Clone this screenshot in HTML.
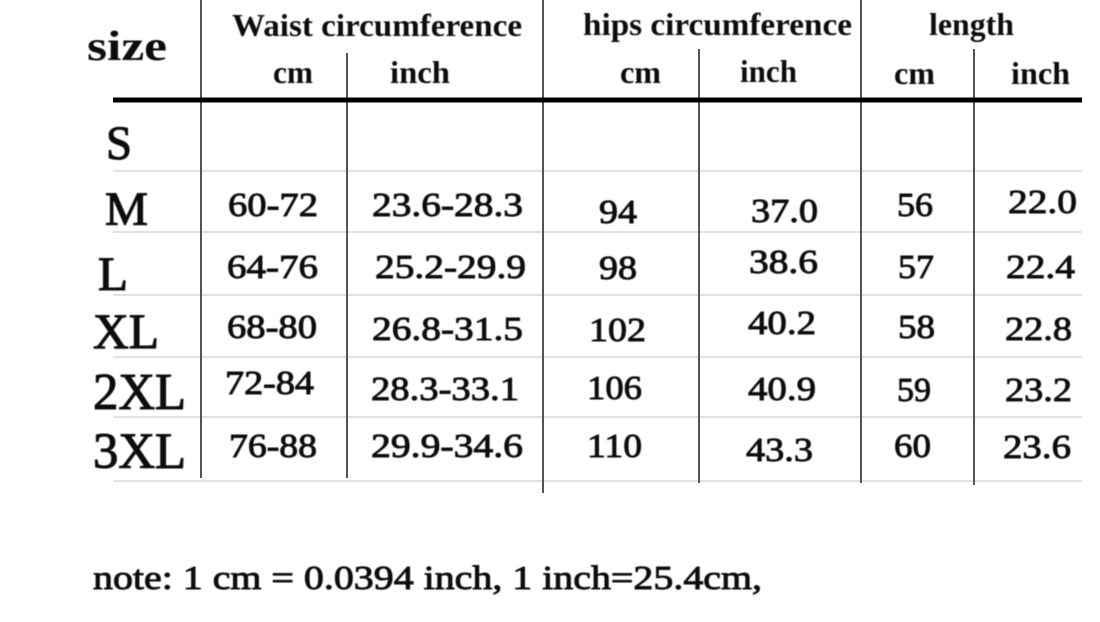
<!DOCTYPE html>
<html>
<head>
<meta charset="utf-8">
<style>
html,body{margin:0;padding:0;background:#fff;}
svg{display:block;}
text{font-family:"Liberation Serif","DejaVu Serif",serif;fill:#111;}
.h{font-weight:bold;font-size:32px;}
.sub{font-weight:bold;font-size:32px;}
.lab{font-size:48px;stroke:#111;stroke-width:1.1;}
.d{font-size:34px;stroke:#111;stroke-width:0.9;}
.note{font-size:34px;stroke:#111;stroke-width:0.9;}
</style>
</head>
<body>
<svg width="1100" height="622" viewBox="0 0 1100 622" xmlns="http://www.w3.org/2000/svg">
  <defs>
    <filter id="soft" x="-5%" y="-5%" width="110%" height="110%">
      <feGaussianBlur stdDeviation="0.45"/>
    </filter>
  </defs>
  <rect width="1100" height="622" fill="#fff"/>
  <!-- light row lines -->
  <g stroke="#e2e2e2" stroke-width="2">
    <line x1="113" y1="171" x2="1082" y2="171"/>
    <line x1="113" y1="232" x2="1082" y2="232"/>
    <line x1="113" y1="295" x2="1082" y2="295"/>
    <line x1="113" y1="357" x2="1082" y2="357"/>
    <line x1="113" y1="417" x2="1082" y2="417"/>
    <line x1="113" y1="481" x2="1082" y2="481"/>
  </g>
  <!-- vertical lines -->
  <g stroke="#555" stroke-width="2">
    <line x1="201" y1="0" x2="201" y2="478"/>
    <line x1="347" y1="53" x2="347" y2="478"/>
    <line x1="543" y1="0" x2="543" y2="493"/>
    <line x1="699" y1="49" x2="699" y2="483"/>
    <line x1="861" y1="0" x2="861" y2="483"/>
    <line x1="974" y1="49" x2="974" y2="485"/>
  </g>
  <!-- thick header line -->
  <rect x="113" y="97.5" width="969" height="5" fill="#000"/>

  <g filter="url(#soft)">
  <!-- headers -->
  <text x="87" y="60" style="font-size:42px;font-weight:bold" textLength="80" lengthAdjust="spacingAndGlyphs">size</text>
  <text class="h" x="232" y="36" textLength="290" lengthAdjust="spacingAndGlyphs">Waist circumference</text>
  <text class="h" x="583" y="35" textLength="269" lengthAdjust="spacingAndGlyphs">hips circumference</text>
  <text class="h" x="929" y="35" textLength="85" lengthAdjust="spacingAndGlyphs">length</text>

  <text class="sub" x="273" y="83" textLength="40" lengthAdjust="spacingAndGlyphs">cm</text>
  <text class="sub" x="390" y="83" textLength="60" lengthAdjust="spacingAndGlyphs">inch</text>
  <text class="sub" x="620" y="83" textLength="41" lengthAdjust="spacingAndGlyphs">cm</text>
  <text class="sub" x="740" y="82" textLength="57" lengthAdjust="spacingAndGlyphs">inch</text>
  <text class="sub" x="894" y="84" textLength="41" lengthAdjust="spacingAndGlyphs">cm</text>
  <text class="sub" x="1011" y="84" textLength="59" lengthAdjust="spacingAndGlyphs">inch</text>

  <!-- row labels -->
  <text class="lab" x="106" y="159" textLength="26" lengthAdjust="spacingAndGlyphs">S</text>
  <text class="lab" x="105" y="225" textLength="43" lengthAdjust="spacingAndGlyphs">M</text>
  <text class="lab" x="98" y="290" textLength="30" lengthAdjust="spacingAndGlyphs">L</text>
  <text class="lab" x="93" y="348" style="font-size:50px" textLength="66" lengthAdjust="spacingAndGlyphs">XL</text>
  <text class="lab" x="93" y="409" style="font-size:52px" textLength="93" lengthAdjust="spacingAndGlyphs">2XL</text>
  <text class="lab" x="93" y="468" style="font-size:51px" textLength="93" lengthAdjust="spacingAndGlyphs">3XL</text>

  <!-- data row M -->
  <text class="d" x="228" y="216" textLength="90" lengthAdjust="spacingAndGlyphs">60-72</text>
  <text class="d" x="372" y="216" textLength="151" lengthAdjust="spacingAndGlyphs">23.6-28.3</text>
  <text class="d" x="599" y="223" textLength="38" lengthAdjust="spacingAndGlyphs">94</text>
  <text class="d" x="751" y="222" textLength="67" lengthAdjust="spacingAndGlyphs">37.0</text>
  <text class="d" x="897" y="216" textLength="36" lengthAdjust="spacingAndGlyphs">56</text>
  <text class="d" x="1008" y="213" textLength="69" lengthAdjust="spacingAndGlyphs">22.0</text>

  <!-- row L -->
  <text class="d" x="227" y="278" textLength="91" lengthAdjust="spacingAndGlyphs">64-76</text>
  <text class="d" x="375" y="278" textLength="151" lengthAdjust="spacingAndGlyphs">25.2-29.9</text>
  <text class="d" x="599" y="279" textLength="38" lengthAdjust="spacingAndGlyphs">98</text>
  <text class="d" x="749" y="273" textLength="69" lengthAdjust="spacingAndGlyphs">38.6</text>
  <text class="d" x="898" y="278" textLength="36" lengthAdjust="spacingAndGlyphs">57</text>
  <text class="d" x="1006" y="278" textLength="69" lengthAdjust="spacingAndGlyphs">22.4</text>

  <!-- row XL -->
  <text class="d" x="227" y="338" textLength="90" lengthAdjust="spacingAndGlyphs">68-80</text>
  <text class="d" x="372" y="340" textLength="151" lengthAdjust="spacingAndGlyphs">26.8-31.5</text>
  <text class="d" x="589" y="341" textLength="57" lengthAdjust="spacingAndGlyphs">102</text>
  <text class="d" x="748" y="334" textLength="68" lengthAdjust="spacingAndGlyphs">40.2</text>
  <text class="d" x="898" y="338" textLength="37" lengthAdjust="spacingAndGlyphs">58</text>
  <text class="d" x="1005" y="340" textLength="67" lengthAdjust="spacingAndGlyphs">22.8</text>

  <!-- row 2XL -->
  <text class="d" x="225" y="394" textLength="89" lengthAdjust="spacingAndGlyphs">72-84</text>
  <text class="d" x="371" y="400" textLength="148" lengthAdjust="spacingAndGlyphs">28.3-33.1</text>
  <text class="d" x="587" y="399" textLength="55" lengthAdjust="spacingAndGlyphs">106</text>
  <text class="d" x="748" y="400" textLength="68" lengthAdjust="spacingAndGlyphs">40.9</text>
  <text class="d" x="897" y="401" textLength="34" lengthAdjust="spacingAndGlyphs">59</text>
  <text class="d" x="1005" y="401" textLength="67" lengthAdjust="spacingAndGlyphs">23.2</text>

  <!-- row 3XL -->
  <text class="d" x="229" y="457" textLength="88" lengthAdjust="spacingAndGlyphs">76-88</text>
  <text class="d" x="371" y="457" textLength="152" lengthAdjust="spacingAndGlyphs">29.9-34.6</text>
  <text class="d" x="587" y="457" textLength="55" lengthAdjust="spacingAndGlyphs">110</text>
  <text class="d" x="746" y="461" textLength="67" lengthAdjust="spacingAndGlyphs">43.3</text>
  <text class="d" x="894" y="457" textLength="37" lengthAdjust="spacingAndGlyphs">60</text>
  <text class="d" x="1003" y="458" textLength="68" lengthAdjust="spacingAndGlyphs">23.6</text>

  <!-- note -->
  <text class="note" x="93" y="589" textLength="669" lengthAdjust="spacingAndGlyphs">note: 1 cm = 0.0394 inch, 1 inch=25.4cm,</text>
  </g>
</svg>
</body>
</html>
